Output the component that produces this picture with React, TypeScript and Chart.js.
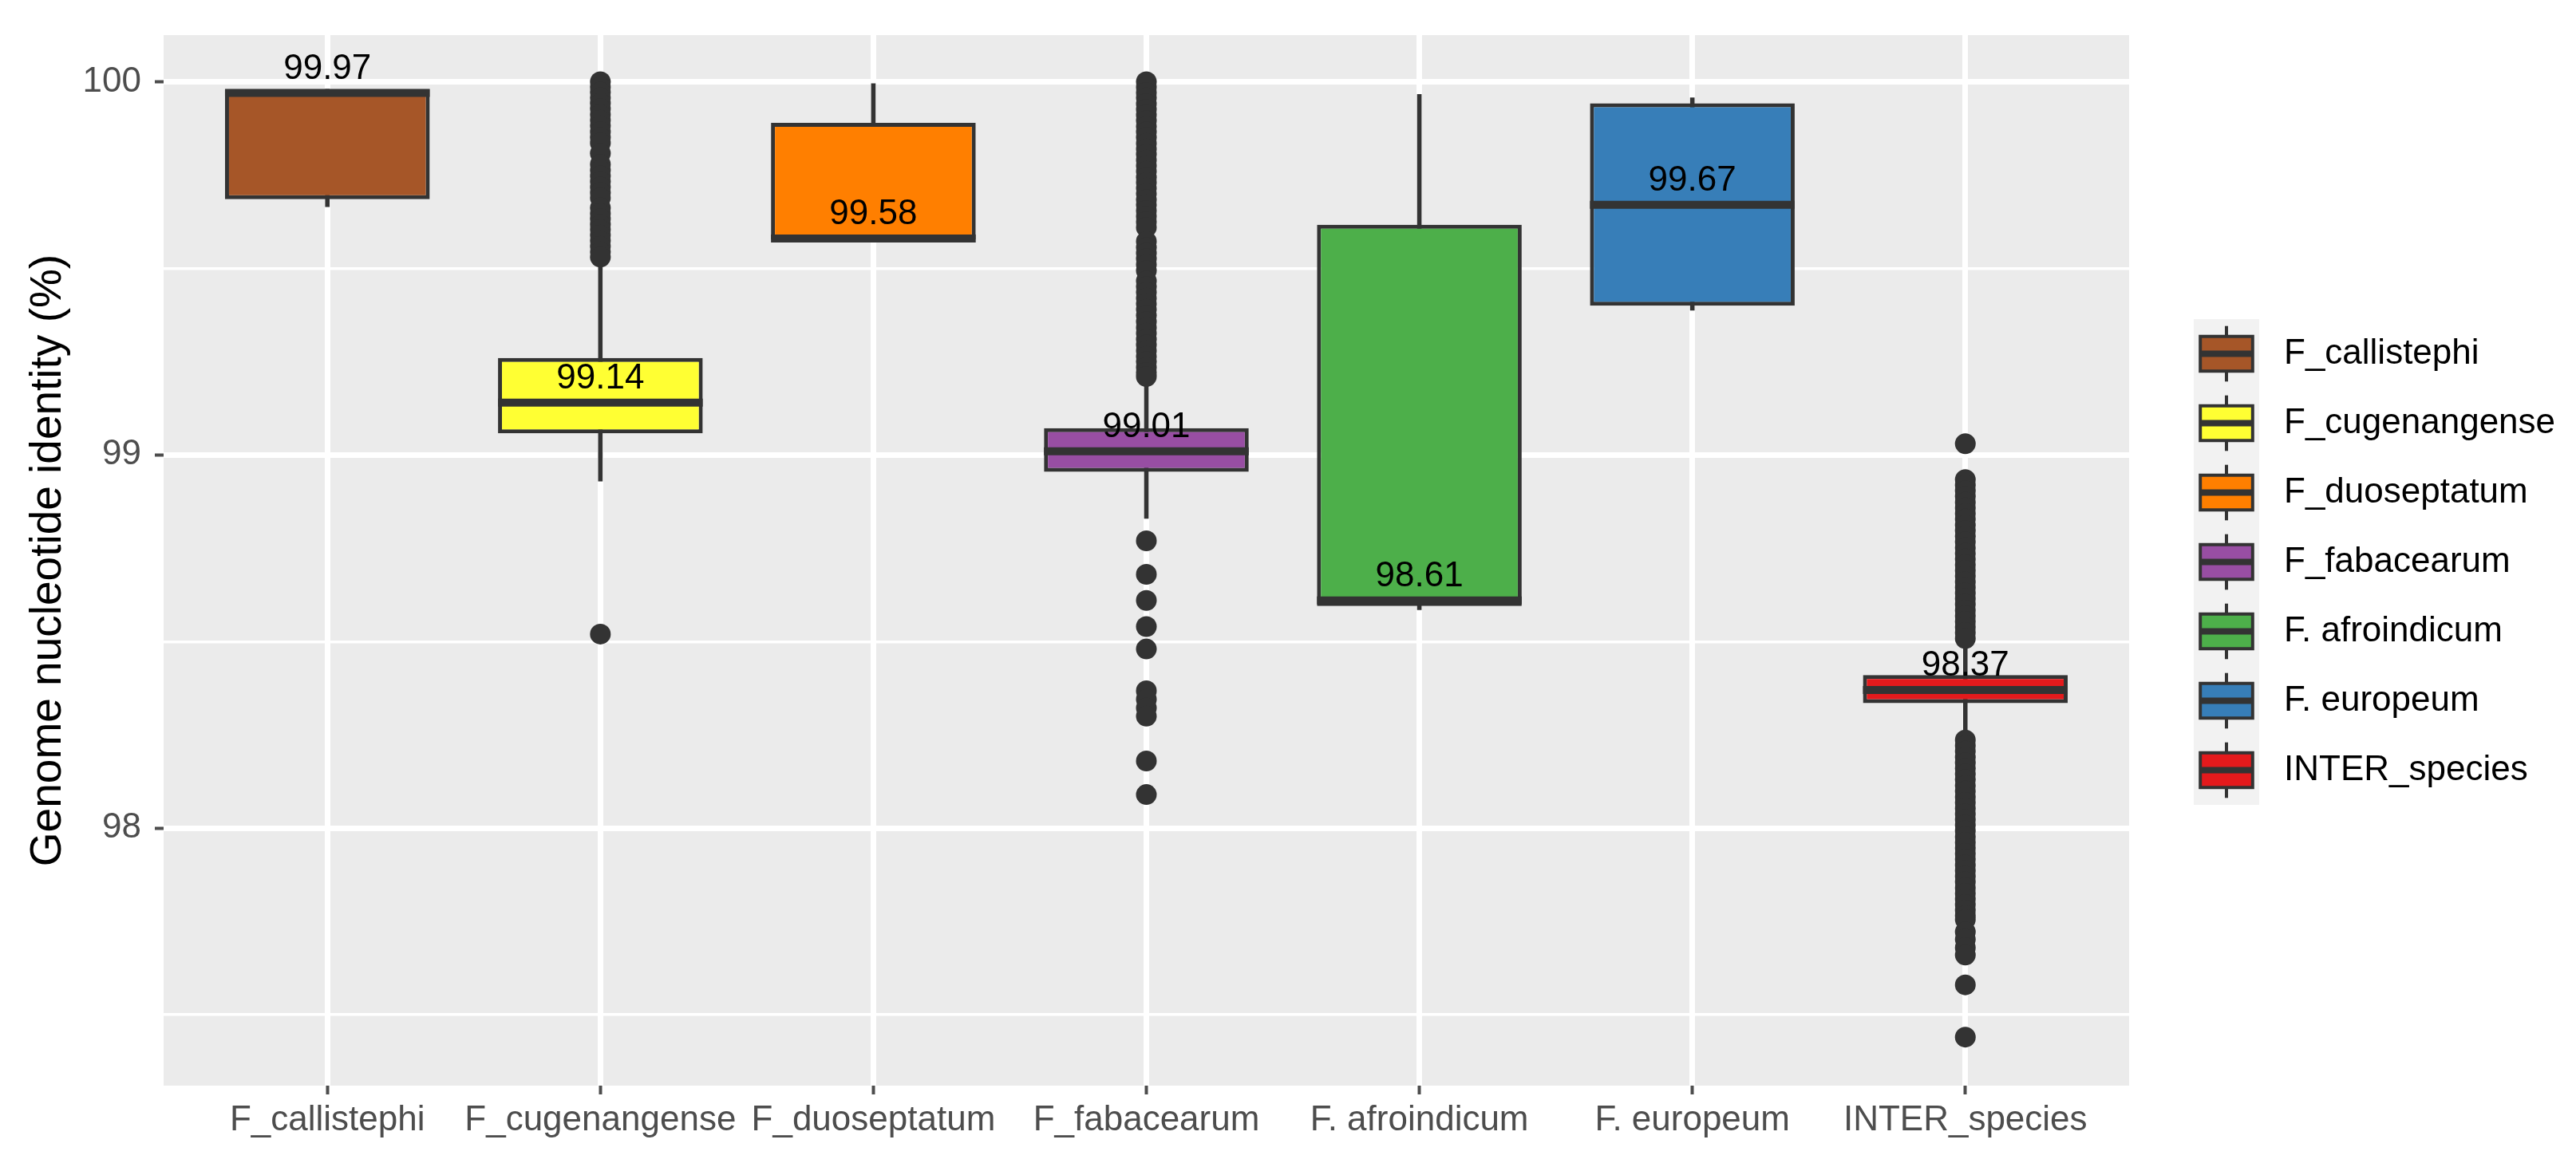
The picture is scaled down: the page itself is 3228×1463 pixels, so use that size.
import React, { useEffect, useRef } from 'react';
import { Chart, registerables } from 'chart.js';

Chart.register(...registerables);

const FONT = '"Liberation Sans", Arial, Helvetica, sans-serif';

const CATEGORIES = [
  'F_callistephi',
  'F_cugenangense',
  'F_duoseptatum',
  'F_fabacearum',
  'F. afroindicum',
  'F. europeum',
  'INTER_species',
];
const COLORS = ['#A65628', '#FFFF33', '#FF7F00', '#984EA3', '#4DAF4A', '#377EB8', '#E41A1C'];

const Q1 = [99.685, 99.058, 99.578, 98.955, 98.595, 99.4, 98.335];
const MEDIAN = [99.97, 99.14, 99.58, 99.01, 98.61, 99.67, 98.37];
const Q3 = [99.98, 99.26, 99.89, 99.072, 99.617, 99.942, 98.41];
const WHISKER_LOW = [99.665, 98.93, 99.578, 98.83, 98.585, 99.388, 98.245];
const WHISKER_HIGH = [99.98, 99.52, 99.995, 99.2, 99.966, 99.957, 98.5];

const OUT_CALLISTEPHI: number[] = [];
const OUT_CUGENANGENSE = [
  100.0, 99.986, 99.972, 99.957, 99.943, 99.928, 99.912, 99.897, 99.882, 99.866, 99.851, 99.836,
  99.808, 99.779, 99.763, 99.748, 99.733, 99.718, 99.703, 99.689,
  99.662, 99.647, 99.633, 99.618, 99.604, 99.589, 99.574, 99.559, 99.544, 99.53,
  98.52,
];
const OUT_DUOSEPTATUM: number[] = [];
const OUT_FABACEARUM = [
  100.0, 99.986, 99.971, 99.957, 99.941, 99.926, 99.911, 99.896, 99.88, 99.866, 99.851, 99.835,
  99.82, 99.806, 99.79, 99.775, 99.76, 99.744, 99.73, 99.715, 99.7, 99.684, 99.67, 99.655,
  99.64, 99.625, 99.61,
  99.572, 99.556, 99.541, 99.526, 99.51, 99.494,
  99.466, 99.451, 99.436, 99.42, 99.405, 99.39, 99.374, 99.357, 99.341, 99.326, 99.31, 99.295,
  99.279, 99.264, 99.25, 99.235, 99.221, 99.21,
  98.77, 98.68, 98.61, 98.54, 98.48, 98.368, 98.345, 98.322, 98.3, 98.18, 98.09,
];
const OUT_AFROINDICUM: number[] = [];
const OUT_EUROPEUM: number[] = [];
const OUT_INTER = [
  99.03,
  98.934, 98.919, 98.904, 98.889, 98.873, 98.858, 98.843, 98.828, 98.812, 98.797, 98.782,
  98.767, 98.751, 98.736, 98.721, 98.706, 98.691, 98.676, 98.66, 98.645, 98.63, 98.615,
  98.6, 98.584, 98.569, 98.554, 98.539, 98.524, 98.508,
  98.236, 98.221, 98.206, 98.19, 98.175, 98.16, 98.145, 98.13, 98.114, 98.099, 98.084,
  98.069, 98.053, 98.038, 98.023, 98.008, 97.993, 97.977, 97.962, 97.947, 97.932, 97.917,
  97.901, 97.886, 97.871, 97.856, 97.84, 97.825, 97.81, 97.795, 97.78, 97.766, 97.755,
  97.722, 97.702, 97.68, 97.66,
  97.58,
  97.44,
];
const OUTLIERS = [
  OUT_CALLISTEPHI,
  OUT_CUGENANGENSE,
  OUT_DUOSEPTATUM,
  OUT_FABACEARUM,
  OUT_AFROINDICUM,
  OUT_EUROPEUM,
  OUT_INTER,
];

const Y_TICKS = [97.5, 98, 98.5, 99, 99.5, 100];
const Y_MAJOR = [98, 99, 100];
const Y_TITLE = 'Genome nucleotide identity (%)';

const panelBackground = {
  id: 'panelBackground',
  beforeDraw(chart: any) {
    const { ctx, chartArea } = chart;
    ctx.save();
    ctx.fillStyle = '#EBEBEB';
    ctx.fillRect(chartArea.left, chartArea.top, chartArea.right - chartArea.left, chartArea.bottom - chartArea.top);
    ctx.restore();
  },
};

const mediansAndLabels = {
  id: 'mediansAndLabels',
  afterDatasetsDraw(chart: any) {
    const { ctx } = chart;
    const y = chart.scales.y;
    const meta = chart.getDatasetMeta(1);
    ctx.save();
    MEDIAN.forEach((m, i) => {
      const el = meta.data[i];
      if (!el) return;
      const { x, width } = el.getProps(['x', 'width'], true);
      const py = y.getPixelForValue(m);
      ctx.strokeStyle = '#333333';
      ctx.lineWidth = 10;
      ctx.beginPath();
      ctx.moveTo(x - width / 2, py);
      ctx.lineTo(x + width / 2, py);
      ctx.stroke();
    });
    ctx.fillStyle = '#000000';
    ctx.font = `44px ${FONT}`;
    ctx.textAlign = 'center';
    ctx.textBaseline = 'middle';
    MEDIAN.forEach((m, i) => {
      const el = meta.data[i];
      if (!el) return;
      const { x } = el.getProps(['x'], true);
      const py = y.getPixelForValue(m);
      ctx.fillText(m.toFixed(2), x, py - 30);
    });
    ctx.restore();
  },
};

const boxLegend = {
  id: 'boxLegend',
  afterDraw(chart: any) {
    const { ctx, chartArea } = chart;
    const keyLeft = chartArea.right + 81;
    const keyW = 82;
    const keyH = 87;
    const top = 400;
    ctx.save();
    CATEGORIES.forEach((name, i) => {
      const ky = top + i * keyH;
      const cx = keyLeft + keyW / 2;
      ctx.fillStyle = '#F2F2F2';
      ctx.fillRect(keyLeft, ky, keyW, keyH);
      ctx.strokeStyle = '#333333';
      ctx.lineWidth = 4;
      ctx.beginPath();
      ctx.moveTo(cx, ky + keyH * 0.1);
      ctx.lineTo(cx, ky + keyH * 0.9);
      ctx.stroke();
      const bx = keyLeft + keyW * 0.1;
      const bw = keyW * 0.8;
      const by = ky + keyH * 0.25;
      const bh = keyH * 0.5;
      ctx.fillStyle = COLORS[i];
      ctx.fillRect(bx, by, bw, bh);
      ctx.strokeRect(bx, by, bw, bh);
      ctx.lineWidth = 8;
      ctx.beginPath();
      ctx.moveTo(bx, ky + keyH / 2);
      ctx.lineTo(bx + bw, ky + keyH / 2);
      ctx.stroke();
      ctx.fillStyle = '#000000';
      ctx.font = `44px ${FONT}`;
      ctx.textAlign = 'left';
      ctx.textBaseline = 'middle';
      ctx.fillText(name, keyLeft + keyW + 31, ky + keyH / 2);
    });
    ctx.restore();
  },
};

export default function App() {
  const ref = useRef<HTMLCanvasElement | null>(null);

  useEffect(() => {
    if (!ref.current) return;
    const whiskerData = CATEGORIES.map((_, i) => ({ x: i, y: [WHISKER_LOW[i], WHISKER_HIGH[i]] }));
    const boxData = CATEGORIES.map((_, i) => ({ x: i, y: [Q1[i], Q3[i]] }));
    const outlierData = OUTLIERS.flatMap((arr, i) => arr.map((v) => ({ x: i, y: v })));

    const chart = new Chart(ref.current, {
      type: 'bar',
      data: {
        datasets: [
          {
            type: 'bar',
            label: 'whiskers',
            data: whiskerData as any,
            backgroundColor: '#333333',
            barThickness: 5,
            grouped: false,
            order: 3,
          } as any,
          {
            type: 'bar',
            label: 'boxes',
            data: boxData as any,
            backgroundColor: COLORS,
            borderColor: '#333333',
            borderWidth: 5,
            borderSkipped: false,
            barPercentage: 0.75,
            categoryPercentage: 1,
            grouped: false,
            order: 2,
          } as any,
          {
            type: 'scatter',
            label: 'outliers',
            data: outlierData as any,
            backgroundColor: '#333333',
            borderWidth: 0,
            pointRadius: 13,
            pointHoverRadius: 13,
            order: 1,
          } as any,
        ],
      },
      options: {
        responsive: false,
        maintainAspectRatio: false,
        devicePixelRatio: 1,
        animation: false,
        events: [],
        layout: { padding: { left: 0, top: 44, right: 560, bottom: 0 } },
        plugins: {
          legend: { display: false },
          tooltip: { enabled: false },
          title: { display: false },
        },
        scales: {
          x: {
            type: 'linear',
            min: -0.6,
            max: 6.6,
            offset: false,
            afterBuildTicks: (s: any) => {
              s.ticks = CATEGORIES.map((_, i) => ({ value: i }));
            },
            afterFit: (s: any) => {
              s.height = 102;
            },
            border: { display: false },
            grid: {
              offset: false,
              color: '#FFFFFF',
              lineWidth: 7,
              drawTicks: true,
              tickLength: 11,
              tickColor: '#4D4D4D',
              tickWidth: 4,
            },
            ticks: {
              callback: (v: any) => CATEGORIES[v] ?? '',
              color: '#4D4D4D',
              font: { family: FONT, size: 44 },
              padding: 6,
              maxRotation: 0,
              minRotation: 0,
              autoSkip: false,
            },
          },
          y: {
            type: 'linear',
            min: 97.31,
            max: 100.125,
            afterBuildTicks: (s: any) => {
              s.ticks = Y_TICKS.map((v) => ({ value: v }));
            },
            afterFit: (s: any) => {
              s.width = 205;
            },
            border: { display: false },
            grid: {
              offset: false,
              color: '#FFFFFF',
              lineWidth: (c: any) => (c.tick && Y_MAJOR.includes(c.tick.value) ? 7 : 3.5),
              drawTicks: true,
              tickLength: 11,
              tickColor: (c: any) => (c.tick && Y_MAJOR.includes(c.tick.value) ? '#4D4D4D' : 'rgba(0,0,0,0)'),
              tickWidth: 4,
            },
            ticks: {
              callback: (v: any) => (Y_MAJOR.includes(v) ? String(v) : ''),
              color: '#4D4D4D',
              font: { family: FONT, size: 44 },
              padding: 17,
              autoSkip: false,
            },
            title: {
              display: true,
              text: Y_TITLE,
              color: '#000000',
              font: { family: FONT, size: 55 },
              padding: { top: 28, bottom: 0 },
            },
          },
        },
      } as any,
      plugins: [panelBackground, mediansAndLabels, boxLegend],
    });
    return () => chart.destroy();
  }, []);

  return (
    <div style={{ position: 'absolute', left: 0, top: 0, width: 3228, height: 1463, background: '#FFFFFF' }}>
      <canvas ref={ref} width={3228} height={1463} style={{ display: 'block', width: 3228, height: 1463 }} />
    </div>
  );
}
